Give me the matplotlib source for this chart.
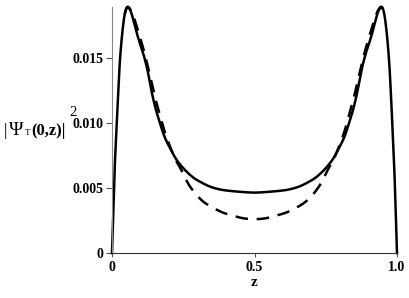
import matplotlib
matplotlib.use("Agg")
import matplotlib.pyplot as plt
import numpy as np

z_solid = [0, 0.005, 0.01, 0.016, 0.022, 0.028, 0.036, 0.045, 0.054, 0.065, 0.075, 0.087, 0.098, 0.110, 0.125, 0.139, 0.153, 0.168,
           0.185, 0.205, 0.227, 0.255, 0.285, 0.315, 0.344, 0.375, 0.402, 0.45, 0.5,
           0.55, 0.598, 0.625, 0.656, 0.685, 0.715, 0.745, 0.773, 0.795, 0.815, 0.832, 0.847, 0.861, 0.875, 0.89, 0.902, 0.913, 0.925,
           0.935, 0.946, 0.955, 0.964, 0.972, 0.978, 0.984, 0.99, 0.995, 1.0]
psi_solid = [0, 0.0035, 0.0068, 0.0097, 0.0125, 0.01485, 0.0169, 0.0184, 0.0189, 0.0186, 0.0179, 0.0169, 0.0161, 0.0153, 0.0140, 0.0124, 0.0111, 0.0100,
             0.0089, 0.0080, 0.00715, 0.0064, 0.0058, 0.0054, 0.0051, 0.0049, 0.0048, 0.0047, 0.00464,
             0.0047, 0.0048, 0.0049, 0.0051, 0.0054, 0.0058, 0.0064, 0.00715, 0.0080, 0.0089, 0.0100, 0.0111, 0.0124, 0.0140, 0.0153, 0.0161, 0.0169, 0.0179,
             0.0186, 0.0189, 0.0184, 0.0169, 0.01485, 0.0125, 0.0097, 0.0068, 0.0035, 0]

z_dash = [0.045, 0.054, 0.065, 0.075, 0.087, 0.098, 0.110, 0.125, 0.139, 0.153, 0.168, 0.185, 0.205, 0.222, 0.239, 0.274, 0.32, 0.379, 0.42, 0.46, 0.5,
          0.54, 0.58, 0.621, 0.68, 0.726, 0.761, 0.778, 0.795, 0.815, 0.832, 0.847, 0.861, 0.875, 0.89, 0.902, 0.913, 0.925, 0.935, 0.946, 0.955]
psi_dash = [0.0184, 0.0189, 0.0187, 0.0182, 0.0174, 0.0166, 0.0157, 0.0144, 0.0131, 0.0118, 0.0106, 0.0093, 0.0081, 0.0072, 0.00655, 0.0051, 0.00395, 0.0032, 0.0029, 0.00267, 0.0026,
            0.00267, 0.0029, 0.0032, 0.00395, 0.0051, 0.00655, 0.0072, 0.0081, 0.0093, 0.0106, 0.0118, 0.0131, 0.0144, 0.0157, 0.0166, 0.0174, 0.0182, 0.0187, 0.0189, 0.0184]

x_ticks = [0, 0.5, 1.0]
x_labels = ["0", "0.5", "1.0"]
y_ticks = [0, 0.005, 0.010, 0.015]
y_labels = ["0", "0.005", "0.010", "0.015"]

plt.rcParams['font.family'] = ['Liberation Serif', 'DejaVu Serif']

fig = plt.figure(figsize=(4.09, 2.98), dpi=100)
ax = fig.add_axes([112/409, 1-253/298, 285/409, 246/298])

def smooth(x, y):
    x = np.asarray(x, float); y = np.asarray(y, float)
    xs, ys = [], []
    n = len(x)
    for i in range(n-1):
        p0 = (x[max(i-1,0)], y[max(i-1,0)]); p1 = (x[i], y[i]); p2 = (x[i+1], y[i+1]); p3 = (x[min(i+2,n-1)], y[min(i+2,n-1)])
        for s in np.linspace(0, 1, 20, endpoint=False):
            s2, s3 = s*s, s*s*s
            xs.append(0.5*((2*p1[0]) + (-p0[0]+p2[0])*s + (2*p0[0]-5*p1[0]+4*p2[0]-p3[0])*s2 + (-p0[0]+3*p1[0]-3*p2[0]+p3[0])*s3))
            ys.append(0.5*((2*p1[1]) + (-p0[1]+p2[1])*s + (2*p0[1]-5*p1[1]+4*p2[1]-p3[1])*s2 + (-p0[1]+3*p1[1]-3*p2[1]+p3[1])*s3))
    xs.append(x[-1]); ys.append(y[-1])
    return xs, ys

xd, yd = smooth(z_dash, psi_dash)
ax.plot(xd, yd, color='black', lw=1.8, dashes=(5, 3.5), clip_on=False)
xs_, ys_ = smooth(z_solid, psi_solid)
ax.plot(xs_, ys_, color='black', lw=1.8, clip_on=False)

ax.set_xlim(0, 1.0)
ax.set_ylim(0, 0.0189)
for s in ['top', 'right']:
    ax.spines[s].set_visible(False)
ax.spines['left'].set_color('#888888')
ax.spines['bottom'].set_color('#333333')
ax.set_xticks(x_ticks)
ax.set_xticklabels(x_labels, fontweight='bold', fontsize=10)
ax.set_yticks(y_ticks)
ax.set_yticklabels(y_labels, fontweight='bold', fontsize=10)
ax.tick_params(axis='y', direction='out', length=4, color='#555555', pad=2)
ax.tick_params(axis='x', direction='out', length=3, color='#555555', pad=3)

fig.text(254/409, 1-283/298, 'z', fontweight='bold', fontsize=11, ha='center', va='center')
# y label composed of pieces: |Ψ, small subscript T, (0,z)|, superscript 2
base_y = 1-135/298
fig.text(4/409, base_y, '|', fontsize=12, ha='left', va='baseline')
fig.text(9/409, base_y, '\u03a8', fontsize=14, ha='left', va='baseline')
fig.text(25/409, base_y, 'T', fontsize=6.5, ha='left', va='baseline')
fig.text(31/409, base_y, '(0,z)|', fontsize=12, fontweight='bold', ha='left', va='baseline')
fig.text(73/409, 1-112/298, '2', fontsize=10.5, ha='center', va='center')

fig.savefig('out.png', dpi=100)
